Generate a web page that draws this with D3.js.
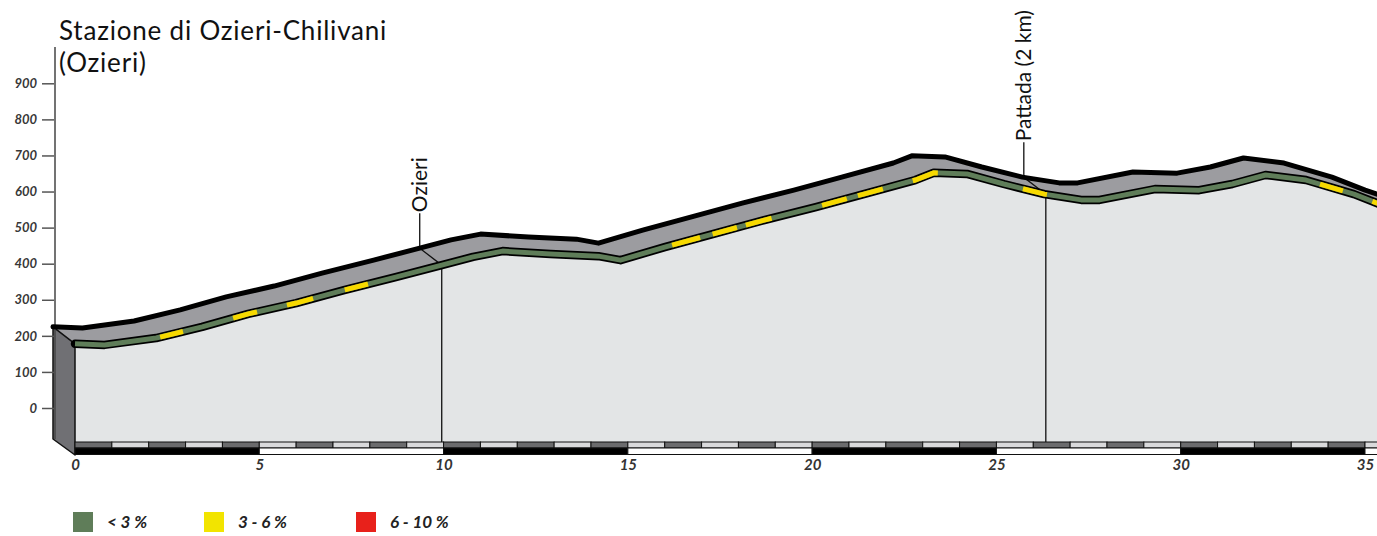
<!DOCTYPE html>
<html>
<head>
<meta charset="utf-8">
<script src="https://cdn.jsdelivr.net/npm/d3@7"></script>
<style>
  body { margin: 0; background: #fff; }
  text { font-family: Lato, "Open Sans", sans-serif; }
</style>
</head>
<body>
<script>
// page size
var width = 1377;
var height = 536;

// profile of the back ridge: distance (km) and altitude (m)
var kms  = [0, 0.8, 2.2, 3.45, 4.7, 6.0, 7.3, 8.7, 9.95, 10.8, 11.6, 12.9, 14.2, 14.8, 16.0, 17.4, 18.7, 20.1, 21.4, 22.8, 23.3, 24.2, 25.2, 26.3, 27.3, 27.8, 29.3, 30.5, 31.4, 32.3, 33.4, 34.7, 35.6, 36.0];
var alts = [225, 222, 241, 272, 308, 338, 374, 410, 443, 466, 482, 474, 468, 457, 493, 532, 568, 604, 640, 679, 699, 696, 668, 640, 624, 624, 654, 651, 668, 693, 679, 640, 604, 590];

// stretches of 3-6 % gradient (yellow dashes), km from / to
var steepKm = [[2.31, 2.93], [4.29, 4.94], [5.75, 6.46], [7.32, 7.95],
               [16.2, 16.96], [17.3, 17.96], [18.2, 18.9],
               [20.27, 20.94], [21.24, 21.92], [22.73, 23.41],
               [25.72, 26.37], [33.78, 34.4], [35.2, 35.8]];

var yTicks = [0, 100, 200, 300, 400, 500, 600, 700, 800, 900];
var xTicks = [0, 5, 10, 15, 20, 25, 30, 35];

// places on the route
var placeNames = ["Ozieri", "Pattada (2 km)"];
var placeKm = [9.95, 26.34];

// legend
var legendLabels = ["< 3 %", "3 - 6 %", "6 - 10 %"];
var legendColors = ["#5f7d59", "#f2e400", "#e8211b"];

var titleLines = ["Stazione di Ozieri-Chilivani", "(Ozieri)"];

// scales (x is the front edge of the profile, back is shifted by depth)
var x = d3.scaleLinear().domain([0, 35]).range([75, 1365]);
var y = d3.scaleLinear().domain([0, 900]).range([408, 83.3]);
var altAt = d3.scaleLinear().domain(kms).range(alts);
var depthX = 22, depthY = 17;
var baseY = 442;

var profile = kms.map(function (k, i) { return {km: k, alt: alts[i]}; });

var svg = d3.select('body').append('svg')
  .attr('width', width)
  .attr('height', height);

// front face
svg.append('path')
  .datum(profile)
  .attr('fill', '#e3e5e6')
  .attr('d', d3.area()
    .x(function (d) { return x(d.km); })
    .y0(baseY)
    .y1(function (d) { return y(d.alt) + depthY; }));

// top surface between back ridge and front edge
svg.append('path')
  .datum(profile)
  .attr('fill', '#9c9ca0')
  .attr('d', d3.area()
    .x1(function (d) { return x(d.km) - depthX; })
    .y1(function (d) { return y(d.alt); })
    .x0(function (d) { return x(d.km); })
    .y0(function (d) { return y(d.alt) + depthY; }));

// left side face
var x0 = x(0), top0 = y(alts[0]);
svg.append('path')
  .attr('fill', '#707074')
  .attr('stroke', '#111')
  .attr('stroke-width', 1.5)
  .attr('stroke-linejoin', 'round')
  .attr('d', 'M' + (x0 - depthX) + ',' + top0 +
             'L' + (x0 - depthX) + ',' + (baseY - 3) +
             'L' + x0 + ',' + (baseY + 13) +
             'L' + x0 + ',' + (top0 + depthY) + 'Z');

// y axis
svg.append('line')
  .attr('x1', 55).attr('x2', 55)
  .attr('y1', 47).attr('y2', baseY - 3)
  .attr('stroke', '#444').attr('stroke-width', 1.5);

var yAxis = svg.append('g')
  .attr('transform', 'translate(54,0)')
  .call(d3.axisLeft(y).tickValues(yTicks).tickSize(12).tickPadding(5));
yAxis.select('.domain').remove();
yAxis.selectAll('line').attr('stroke', '#555').attr('stroke-width', 1.5);
yAxis.selectAll('text')
  .attr('fill', '#383838')
  .style('font-size', '13px')
  .style('font-weight', 'bold')
  .style('font-style', 'italic');

// km strips
var kmSegs = d3.range(0, 37);
svg.selectAll('.km1').data(kmSegs).enter().append('rect')
  .attr('class', 'km1')
  .attr('x', function (k) { return x(k); })
  .attr('y', baseY)
  .attr('width', function (k) { return x(k + 1) - x(k); })
  .attr('height', 6)
  .attr('fill', function (k) { return k % 2 === 0 ? '#6b6b6d' : '#d9d9db'; })
  .attr('stroke', '#111')
  .attr('stroke-width', 1);

var fiveSegs = d3.range(0, 40, 5);
svg.selectAll('.km5').data(fiveSegs).enter().append('rect')
  .attr('class', 'km5')
  .attr('x', function (k) { return x(k); })
  .attr('y', baseY + 6)
  .attr('width', function (k) { return x(k + 5) - x(k); })
  .attr('height', 6.5)
  .attr('fill', function (k) { return (k / 5) % 2 === 0 ? '#000' : '#fff'; })
  .attr('stroke', '#111')
  .attr('stroke-width', 1);

// x labels
var xAxis = svg.append('g')
  .attr('transform', 'translate(0,' + (baseY + 14) + ')')
  .call(d3.axisBottom(x).tickValues(xTicks).tickSize(0).tickPadding(3));
xAxis.select('.domain').remove();
xAxis.selectAll('text')
  .attr('fill', '#333')
  .style('font-size', '15px')
  .style('font-weight', 'bold')
  .style('font-style', 'italic');

// place markers
placeNames.forEach(function (name, i) {
  var k = placeKm[i];
  var bx = x(k) - depthX, by = y(altAt(k));
  var fx = x(k), fy = by + depthY;
  svg.append('path')
    .attr('fill', 'none')
    .attr('stroke', '#111')
    .attr('stroke-width', 1.3)
    .attr('d', 'M' + bx + ',' + (by - 35) + 'L' + bx + ',' + by +
               'L' + fx + ',' + fy + 'L' + fx + ',' + baseY);
  svg.append('text')
    .attr('transform', 'translate(' + (bx + 7) + ',' + (by - 36) + ') rotate(-90)')
    .attr('fill', '#111')
    .style('font-size', '21px')
    .text(name);
});

// back ridge line
svg.append('path')
  .datum(profile)
  .attr('fill', 'none')
  .attr('stroke', '#000')
  .attr('stroke-width', 5)
  .attr('stroke-linejoin', 'round')
  .attr('stroke-linecap', 'round')
  .attr('d', d3.line()
    .x(function (d) { return x(d.km) - depthX; })
    .y(function (d) { return y(d.alt); }));

// front edge: black outline, green road, yellow steep stretches
var frontLine = d3.line()
  .x(function (d) { return x(d.km); })
  .y(function (d) { return y(d.alt) + depthY; });

svg.append('path')
  .datum(profile)
  .attr('fill', 'none')
  .attr('stroke', '#000')
  .attr('stroke-width', 8.5)
  .attr('stroke-linejoin', 'round')
  .attr('stroke-linecap', 'round')
  .attr('d', frontLine);

svg.append('path')
  .datum(profile)
  .attr('fill', 'none')
  .attr('stroke', legendColors[0])
  .attr('stroke-width', 5)
  .attr('stroke-linejoin', 'round')
  .attr('d', frontLine);

steepKm.forEach(function (s) {
  var pts = [s[0]].concat(kms.filter(function (k) { return k > s[0] && k < s[1]; }), [s[1]]);
  svg.append('path')
    .datum(pts.map(function (k) { return {km: k, alt: altAt(k)}; }))
    .attr('fill', 'none')
    .attr('stroke', '#f7d900')
    .attr('stroke-width', 5)
    .attr('d', frontLine);
});

// title, two lines
svg.append('g').selectAll('text').data(titleLines).enter().append('text')
  .attr('x', 59)
  .attr('y', function (d, i) { return 40 + i * 32; })
  .attr('fill', '#111')
  .style('font-size', '26px')
  .style('letter-spacing', '0.8px')
  .text(function (d) { return d; });

// legend
var legendX = [73, 204, 356];
legendLabels.forEach(function (lab, i) {
  svg.append('rect')
    .attr('x', legendX[i]).attr('y', 512)
    .attr('width', 20).attr('height', 20)
    .attr('fill', legendColors[i]);
  svg.append('text')
    .attr('x', legendX[i] + 34).attr('y', 528)
    .attr('fill', '#222')
    .style('font-size', '17px')
    .style('font-weight', 'bold')
    .style('font-style', 'italic')
    .text(lab);
});
</script>
</body>
</html>
